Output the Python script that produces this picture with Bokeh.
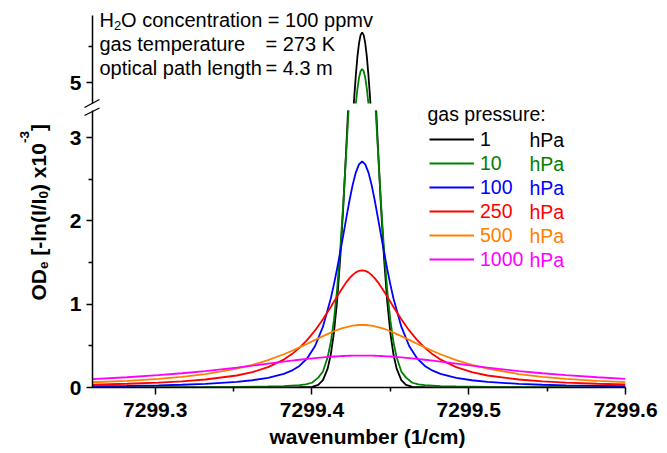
from bokeh.plotting import figure
from bokeh.models import (Range1d, FixedTicker, PrintfTickFormatter, Label,
                          Legend, LegendItem, Arrow, GridBox)
from bokeh.embed import file_html
from bokeh.resources import INLINE

FONT = "Liberation Sans"

# ---------------- data ----------------
wn_narrow = [7299.260, 7299.302, 7299.332, 7299.352, 7299.372, 7299.382, 7299.392,
             7299.396, 7299.400, 7299.404, 7299.407, 7299.410, 7299.412, 7299.414,
             7299.416, 7299.418, 7299.420, 7299.422, 7299.423, 7299.424, 7299.425,
             7299.426, 7299.427, 7299.428, 7299.429, 7299.430, 7299.431, 7299.432,
             7299.433, 7299.434, 7299.435, 7299.436, 7299.437, 7299.438, 7299.439,
             7299.440, 7299.441, 7299.442, 7299.444, 7299.446, 7299.448, 7299.450,
             7299.452, 7299.454, 7299.457, 7299.460, 7299.464, 7299.468, 7299.472,
             7299.482, 7299.492, 7299.512, 7299.532, 7299.562, 7299.600]
od_1hPa = [0.000, 0.000, 0.001, 0.001, 0.001, 0.002, 0.003, 0.004, 0.008, 0.031, 0.089,
           0.226, 0.396, 0.657, 1.034, 1.542, 2.180, 2.923, 3.317, 3.715, 4.105, 4.480,
           4.817, 5.110, 5.359, 5.540, 5.652, 5.690,
           5.652, 5.540, 5.359, 5.110, 4.817, 4.480, 4.105, 3.715, 3.317, 2.923, 2.180,
           1.542, 1.034, 0.657, 0.396, 0.226, 0.089, 0.031, 0.008, 0.004, 0.003, 0.002,
           0.001, 0.001, 0.001, 0.000, 0.000]
od_10hPa = [0.001, 0.002, 0.004, 0.006, 0.012, 0.017, 0.029, 0.038, 0.057, 0.119, 0.193,
            0.364, 0.543, 0.808, 1.170, 1.650, 2.220, 2.870, 3.210, 3.540, 3.880, 4.190,
            4.470, 4.720, 4.920, 5.070, 5.160, 5.190,
            5.160, 5.070, 4.920, 4.720, 4.470, 4.190, 3.880, 3.540, 3.210, 2.870, 2.220,
            1.650, 1.170, 0.808, 0.543, 0.364, 0.193, 0.119, 0.057, 0.038, 0.029, 0.017,
            0.012, 0.006, 0.004, 0.002, 0.001]

wn_broad = [7299.260, 7299.282, 7299.302, 7299.317, 7299.332, 7299.352, 7299.362,
            7299.372, 7299.382, 7299.387, 7299.392, 7299.397, 7299.402, 7299.407,
            7299.412, 7299.414, 7299.416, 7299.418, 7299.420, 7299.422, 7299.424,
            7299.426, 7299.428, 7299.430, 7299.432, 7299.434, 7299.436, 7299.438,
            7299.440, 7299.442, 7299.444, 7299.446, 7299.448, 7299.450, 7299.452,
            7299.457, 7299.462, 7299.467, 7299.472, 7299.477, 7299.482, 7299.492,
            7299.502, 7299.512, 7299.532, 7299.547, 7299.562, 7299.582, 7299.600]
od_100hPa = [0.015, 0.020, 0.026, 0.033, 0.044, 0.067, 0.087, 0.116, 0.163, 0.202, 0.259,
             0.351, 0.498, 0.730, 1.069, 1.238, 1.423, 1.623, 1.833, 2.046, 2.251, 2.435,
             2.583, 2.679, 2.713,
             2.679, 2.583, 2.435, 2.251, 2.046, 1.833, 1.623, 1.423, 1.238, 1.069, 0.730,
             0.498, 0.351, 0.259, 0.202, 0.163, 0.116, 0.087, 0.067, 0.044, 0.033, 0.026,
             0.020, 0.016]
od_250hPa = [0.034, 0.045, 0.059, 0.074, 0.096, 0.144, 0.184, 0.244, 0.335, 0.398, 0.476,
             0.571, 0.685, 0.819, 0.967, 1.029, 1.091, 1.152, 1.210, 1.265, 1.313, 1.352,
             1.382, 1.401, 1.407,
             1.401, 1.382, 1.352, 1.313, 1.265, 1.210, 1.152, 1.091, 1.029, 0.967, 0.819,
             0.685, 0.571, 0.476, 0.398, 0.335, 0.244, 0.184, 0.144, 0.096, 0.074, 0.059,
             0.045, 0.036]
od_500hPa = [0.063, 0.080, 0.103, 0.128, 0.161, 0.227, 0.272, 0.329, 0.399, 0.438, 0.481,
             0.525, 0.571, 0.616, 0.659, 0.675, 0.690, 0.703, 0.715, 0.726, 0.735, 0.742,
             0.747, 0.750, 0.751,
             0.750, 0.747, 0.742, 0.735, 0.726, 0.715, 0.703, 0.690, 0.675, 0.659, 0.616,
             0.571, 0.525, 0.481, 0.438, 0.399, 0.329, 0.272, 0.227, 0.161, 0.128, 0.103,
             0.080, 0.065]
od_1000hPa = [0.101, 0.123, 0.148, 0.171, 0.197, 0.239, 0.262, 0.286, 0.310, 0.322, 0.333,
              0.344, 0.353, 0.362, 0.369, 0.372, 0.374, 0.376, 0.378, 0.380, 0.381, 0.382,
              0.382, 0.383, 0.383,
              0.383, 0.382, 0.382, 0.381, 0.380, 0.378, 0.376, 0.374, 0.372, 0.369, 0.362,
              0.353, 0.344, 0.333, 0.322, 0.310, 0.286, 0.262, 0.239, 0.197, 0.171, 0.148,
              0.123, 0.104]

pressures = ["1", "10", "100", "250", "500", "1000"]
colors = ["#000000", "#008000", "#0000FF", "#FF0000", "#FF8000", "#FF00FF"]
series_x = [wn_narrow, wn_narrow, wn_broad, wn_broad, wn_broad, wn_broad]
series_y = [od_1hPa, od_10hPa, od_100hPa, od_250hPa, od_500hPa, od_1000hPa]

x_ticks = [7299.3, 7299.4, 7299.5, 7299.6]
x_minor = [7299.35, 7299.45, 7299.55]
y_ticks_low = [0, 1, 2, 3]
y_minor_low = [0.5, 1.5, 2.5]
y_ticks_up = [5]
y_minor_up = [4.5, 5.5]

# ---------------- layout (page pixels) ----------------
W = 665
H_UP, H_LO = 107, 346
H = H_UP + H_LO
xr = Range1d(7299.26, 7299.6)


def style_axis(ax, tick_out, minor_out, standoff):
    ax.axis_line_width = 1.5
    ax.axis_line_color = "black"
    ax.major_tick_line_width = 1.5
    ax.minor_tick_line_width = 1.5
    ax.major_tick_line_color = "black"
    ax.minor_tick_line_color = "black"
    ax.major_tick_in = 0
    ax.minor_tick_in = 0
    ax.major_tick_out = tick_out
    ax.minor_tick_out = minor_out
    ax.major_label_text_font = FONT
    ax.major_label_text_font_style = "bold"
    ax.major_label_text_font_size = "21px"
    ax.major_label_text_color = "black"
    ax.major_label_standoff = standoff


up = figure(width=W, height=H_UP, x_range=xr, y_range=Range1d(4.72, 5.92),
            output_backend="svg", toolbar_location=None, x_axis_location=None,
            min_border_left=92, min_border_right=40, min_border_top=15,
            min_border_bottom=4)
lo = figure(width=W, height=H_LO, x_range=xr, y_range=Range1d(0, 3.325),
            output_backend="svg", toolbar_location=None,
            min_border_left=92, min_border_right=40, min_border_top=3,
            min_border_bottom=66)

for p in (up, lo):
    p.xgrid.visible = False
    p.ygrid.visible = False
    p.outline_line_color = None
    p.background_fill_color = "white"
    p.border_fill_color = "white"
    style_axis(p.yaxis[0], 6, 4, 5)

up.yaxis[0].ticker = FixedTicker(ticks=y_ticks_up, minor_ticks=y_minor_up)
up.yaxis[0].formatter = PrintfTickFormatter(format="%d")
lo.yaxis[0].ticker = FixedTicker(ticks=y_ticks_low, minor_ticks=y_minor_low)
lo.yaxis[0].formatter = PrintfTickFormatter(format="%d")

xa = lo.xaxis[0]
style_axis(xa, 7, 4, 8)
xa.ticker = FixedTicker(ticks=x_ticks, minor_ticks=x_minor)
xa.formatter = PrintfTickFormatter(format="%.1f")

lo_renderers = []
for xs, ys, c in zip(series_x, series_y, colors):
    up.line(xs, ys, line_color=c, line_width=1.8)
    lo_renderers.append(lo.line(xs, ys, line_color=c, line_width=1.8))

# ---------------- legend (one single-item legend per colour) ----------------
row_centers = [139, 163, 187, 211, 235, 259]   # page y of each legend row
LO_FRAME_BOTTOM = 387
for i, yc in enumerate(row_centers):
    leg = Legend(items=[LegendItem(label=pressures[i], renderers=[lo_renderers[i]])],
                 location=(337, LO_FRAME_BOTTOM - yc - 12), glyph_width=45,
                 glyph_height=24, label_height=24, label_standoff=6, padding=0,
                 margin=0, spacing=0, border_line_alpha=0, background_fill_alpha=0,
                 label_text_font=FONT, label_text_font_size="19.5px",
                 label_text_color=colors[i])
    lo.add_layout(leg)

# ---------------- transparent overlay for free texts ----------------
ov = figure(width=W, height=H, x_range=Range1d(0, 1), y_range=Range1d(0, 1),
            output_backend="svg", toolbar_location=None, x_axis_location=None,
            y_axis_location=None, min_border=0, outline_line_color=None,
            background_fill_alpha=0, border_fill_alpha=0)
ov.frame_align = False
ov.xgrid.visible = False
ov.ygrid.visible = False


def sy(py):
    return H - py


def text(px, py, s, size, color="black", bold=False, angle=0, baseline="middle",
         align="left"):
    ov.add_layout(Label(x=px, y=sy(py), x_units="screen", y_units="screen", text=s,
                        angle=angle, angle_units="deg", text_font=FONT,
                        text_font_style="bold" if bold else "normal",
                        text_font_size=size, text_color=color, text_align=align,
                        text_baseline=baseline))


# x-axis title
text(367, 436, "wavenumber (1/cm)", "21px", bold=True, align="center")

# y-axis title, rotated, with sub/superscripts
for s, px, py, fs in [("OD", 37.5, 300, "21px"), ("e", 43, 268.5, "13.5px"),
                      ("[-ln(I/I", 37.5, 255.2, "21px"), ("0", 43, 198, "13.5px"),
                      (") x10", 37.5, 190.5, "21px"), ("-3", 24, 142.6, "13.5px"),
                      ("]", 37.5, 130.6, "21px")]:
    text(px, py, s, fs, bold=True, angle=90, baseline="alphabetic")

# conditions
text(99, 19.5, "H", "20px")
text(113.4, 25, "2", "13px")
text(120.6, 19.5, "O concentration = 100 ppmv", "20px")
text(99, 43.5, "gas temperature", "20px")
text(265, 43.5, "= 273 K", "20px")
text(99, 67.5, "optical path length", "20px")
text(265, 67.5, "= 4.3 m", "20px")

# legend title and units
text(427, 113, "gas pressure:", "19.5px")
for i, yc in enumerate(row_centers):
    text(529, yc, "hPa", "19.5px", color=colors[i])

# axis break marks
for (x0, y0, x1, y1) in [(84, 107, 99, 99), (84, 115, 99, 107.5)]:
    ov.add_layout(Arrow(end=None, x_start=x0, y_start=sy(y0), x_end=x1, y_end=sy(y1),
                        start_units="screen", end_units="screen", line_width=1.3,
                        line_color="black"))

grid = GridBox(children=[(up, 0, 0), (lo, 1, 0), (ov, 0, 0, 2, 1)], spacing=0)
open("out.html", "w").write(file_html(grid, INLINE))
